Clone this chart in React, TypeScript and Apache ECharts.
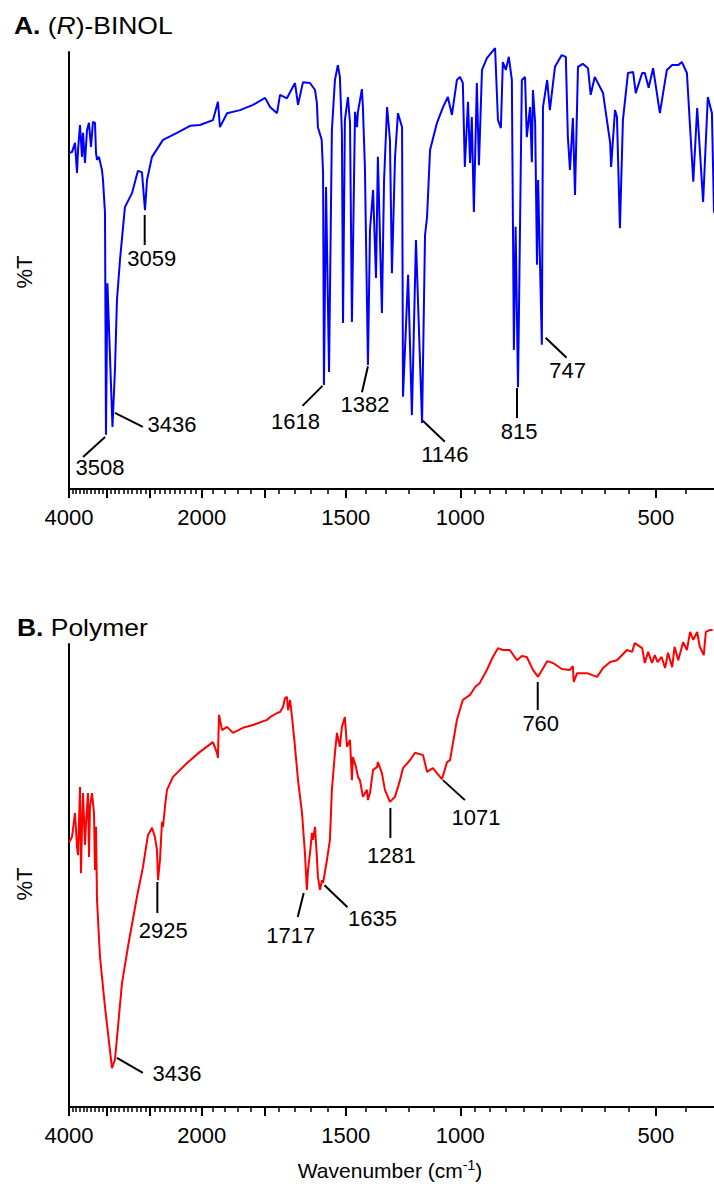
import React, { useEffect, useRef } from 'react';
import * as echarts from 'echarts';

// (R)-BINOL spectrum: [wavenumber cm-1, %T]
const binolSpectrum: [number, number][] = [
  [4000,76.9],[3958,77.1],[3916,79.2],[3888,72.3],[3874,77.6],[3847,83.3],[3820,76.0],[3806,81.5],[3780,74.6],[3753,82.1],[3727,83.8],[3700,78.3],[3674,84.0],[3648,83.8],[3635,76.9],[3622,75.3],[3597,76.0],[3559,73.0],[3546,70.7],[3521,63.2],[3509,12.4],[3491,47.1],[3429,14.2],[3399,27.2],[3375,43.2],[3339,52.4],[3281,64.5],[3200,67.7],[3133,72.8],[3089,72.5],[3056,63.8],[3034,70.7],[2981,76.0],[2867,79.9],[2728,81.5],[2605,83.1],[2515,83.3],[2402,84.4],[2360,88.6],[2343,82.8],[2285,86.0],[2182,86.7],[2084,87.9],[1997,89.5],[1962,87.4],[1914,86.0],[1894,90.2],[1848,89.4],[1828,90.8],[1796,92.9],[1777,87.9],[1746,93.1],[1703,92.9],[1673,91.3],[1662,88.3],[1656,82.8],[1634,79.9],[1626,72.3],[1621,23.8],[1609,69.1],[1592,26.8],[1576,82.1],[1559,93.6],[1543,97.0],[1532,94.3],[1521,81.5],[1515,38.0],[1505,84.4],[1489,89.7],[1478,83.8],[1468,38.2],[1452,86.3],[1442,82.8],[1437,86.3],[1417,91.5],[1412,87.4],[1402,73.7],[1387,28.4],[1377,59.3],[1362,68.4],[1348,48.3],[1339,76.0],[1320,40.3],[1310,70.7],[1296,87.4],[1283,79.9],[1274,49.4],[1260,76.0],[1247,86.0],[1229,82.8],[1225,21.1],[1203,49.0],[1187,16.9],[1170,57.0],[1145,15.1],[1133,58.1],[1125,62.2],[1113,77.6],[1086,83.8],[1063,87.4],[1045,89.7],[1030,85.6],[1012,93.6],[1001,94.3],[991,92.9],[984,73.7],[973,88.6],[966,74.6],[960,85.1],[953,63.4],[943,92.9],[936,74.1],[926,95.9],[910,98.6],[884,100.9],[875,84.4],[866,82.6],[860,97.7],[851,95.9],[842,98.9],[833,93.6],[827,31.8],[822,60.0],[815,23.3],[804,93.6],[795,94.3],[790,80.5],[781,87.4],[776,74.8],[773,91.3],[767,83.8],[762,51.3],[759,70.7],[749,33.0],[746,87.4],[735,93.6],[728,86.7],[715,96.6],[698,99.3],[688,98.9],[683,80.5],[678,73.0],[671,84.9],[666,67.3],[659,96.6],[648,97.3],[636,96.3],[630,90.2],[621,94.3],[603,90.6],[588,79.2],[586,73.7],[578,86.7],[574,85.1],[568,59.7],[562,84.4],[552,95.2],[542,95.4],[537,90.6],[525,95.2],[520,95.2],[513,91.8],[505,96.3],[493,86.0],[481,95.9],[472,97.0],[462,97.0],[456,97.7],[448,95.2],[443,82.8],[438,70.3],[432,87.2],[423,65.7],[416,89.7],[410,86.0],[407,63.2]
];

// Polymer spectrum: [wavenumber cm-1, %T]
const polymerSpectrum: [number, number][] = [
  [4000,57.2],[3958,58.3],[3916,63.5],[3888,56.2],[3874,54.4],[3847,69.1],[3834,50.5],[3820,60.5],[3806,67.8],[3780,56.6],[3766,61.3],[3740,67.8],[3726,54.0],[3714,64.8],[3687,67.8],[3661,63.5],[3648,51.2],[3635,60.5],[3622,44.7],[3584,32.4],[3521,21.6],[3435,8.4],[3399,10.2],[3315,26.8],[3246,34.6],[3144,45.4],[3078,51.8],[3024,58.7],[2981,60.3],[2950,58.3],[2929,55.5],[2918,49.0],[2898,53.3],[2877,61.6],[2867,60.5],[2847,64.8],[2827,68.5],[2767,71.3],[2633,74.3],[2515,76.7],[2402,78.8],[2368,76.5],[2360,75.4],[2351,84.7],[2326,81.4],[2285,82.1],[2237,80.8],[2160,81.9],[2084,82.5],[1984,83.6],[1962,84.2],[1914,85.1],[1894,85.3],[1874,86.4],[1861,88.3],[1848,88.6],[1841,85.7],[1828,87.9],[1815,84.2],[1796,77.8],[1777,70.6],[1752,63.5],[1734,54.9],[1722,46.9],[1715,51.2],[1703,54.9],[1691,59.2],[1685,57.7],[1673,60.5],[1662,54.0],[1656,49.7],[1644,46.9],[1632,49.0],[1626,48.4],[1604,53.3],[1587,57.7],[1576,68.5],[1559,76.5],[1548,80.8],[1532,77.8],[1521,82.1],[1505,84.2],[1494,77.8],[1478,79.3],[1468,70.6],[1463,75.6],[1447,73.4],[1437,71.3],[1427,70.6],[1412,67.0],[1392,68.5],[1387,66.3],[1377,67.8],[1362,72.8],[1343,73.4],[1339,74.5],[1320,72.1],[1306,68.5],[1283,65.9],[1260,67.0],[1238,70.6],[1225,73.2],[1195,74.9],[1174,76.5],[1141,76.0],[1125,72.4],[1113,72.8],[1102,73.2],[1086,72.1],[1067,70.8],[1048,74.5],[1037,74.9],[1012,83.6],[991,87.9],[966,89.0],[949,90.7],[933,91.6],[910,94.4],[891,97.2],[875,99.1],[860,98.7],[839,98.7],[818,96.5],[804,97.4],[790,97.2],[773,94.4],[759,92.9],[735,96.3],[720,95.9],[698,94.6],[678,94.4],[671,95.2],[669,91.8],[661,93.7],[638,93.7],[616,92.9],[603,94.8],[588,96.1],[574,96.5],[554,98.7],[544,98.3],[539,100.2],[525,99.1],[520,95.9],[514,98.3],[507,95.9],[502,97.6],[497,96.1],[490,97.2],[484,94.8],[479,98.1],[472,95.0],[468,99.4],[462,96.5],[454,100.4],[448,98.7],[443,102.6],[438,100.9],[432,102.6],[428,99.4],[422,97.6],[419,102.6],[413,103.0],[409,103.0]
];

// Peak annotations: label, wavenumber, %T at the tip of the leader line
const binolPeakLabels = ['3059', '3508', '3436', '1618', '1382', '1146', '815', '747'];
const binolPeakNu = [3059, 3508, 3436, 1618, 1382, 1146, 815, 747];
const binolPeakT = [62.7, 11.9, 17.4, 23.6, 28.1, 15.6, 23.1, 34.6];

const polymerPeakLabels = ['2925', '3436', '1717', '1635', '1281', '1071', '760'];
const polymerPeakNu = [2925, 3436, 1717, 1635, 1281, 1071, 760];
const polymerPeakT = [48.6, 10.6, 46.2, 47.9, 64.6, 70.6, 91.8];

// Axis ticks
const majorTicks = [4000, 3500, 3000, 2500, 2000, 1500, 1000, 500];
const tickLabelAt = [4000, 2500, 1500, 1000, 500];
const tickLabelText = ['4000', '2000', '1500', '1000', '500'];
const minorTicks = [
  3950, 3900, 3850, 3800, 3750, 3700, 3650, 3600, 3550, 3450, 3400, 3350, 3300, 3250, 3200, 3150, 3100, 3050,
  2950, 2900, 2850, 2800, 2750, 2700, 2650, 2600, 2550, 2400, 2300, 2200, 2100, 1900, 1800, 1700, 1600,
  1400, 1300, 1200, 1100, 950, 900, 850, 800, 750, 700, 650, 600, 550, 450,
];
const axisMinNu = 407;
const axisMaxNu = 4000;

// Leader line / label layout relative to the tip (pixels): [x1, y1, x2, y2, textX, textY]
const binolLabelLayout = [
  [0, 0, 0, 30, 7, 43],
  [-1, 0, -23, 20, -6, 31],
  [3, 0, 31, 14, 60, 12],
  [-2, 0, -22, 20, -29, 36],
  [-1, 0, -7, 26, -4, 38],
  [1, 0, 23, 21, 23, 34],
  [-1, 0, -1, 30, 1, 43],
  [3, 0, 24, 20, 25, 33],
];
const polymerLabelLayout = [
  [0, 0, 0, 31, 6, 49],
  [5, 0, 31, 15, 65, 16],
  [-4, 0, -10, 24, -17, 42],
  [3, 0, 26, 22, 51, 33],
  [0, 0, 0, 30, 1, 48],
  [2, 0, 24, 20, 35, 37],
  [0, 0, 0, 28, 3, 42],
];

const FONT = '"Liberation Sans", Arial, Helvetica, sans-serif';
const lg = (v: number) => Math.log10(v);

function App() {
  const ref = useRef<HTMLDivElement>(null);

  useEffect(() => {
    document.body.style.margin = '0';
    if (!ref.current) return;
    const chart = echarts.init(ref.current, null, { renderer: 'svg' });

    const labelLogs = tickLabelAt.map(lg);
    const labelFormatter = (val: number) => {
      const i = labelLogs.findIndex((v) => Math.abs(v - val) < 1e-6);
      return i >= 0 ? tickLabelText[i] : '';
    };

    const mkX = (gridIndex: number, minor: boolean) => ({
      type: 'value',
      gridIndex,
      position: 'bottom',
      min: lg(axisMinNu),
      max: lg(axisMaxNu),
      inverse: true,
      axisLine: { show: !minor, onZero: false, lineStyle: { color: '#000', width: 2 } },
      axisTick: {
        show: true,
        inside: false,
        length: minor ? 5 : 9,
        lineStyle: { color: '#000', width: minor ? 1.5 : 2 },
        customValues: (minor ? minorTicks : majorTicks).map(lg),
      },
      axisLabel: minor
        ? { show: false }
        : {
            show: true,
            customValues: labelLogs,
            formatter: labelFormatter,
            fontSize: 22,
            fontFamily: FONT,
            color: '#000',
            margin: 17,
          },
      splitLine: { show: false },
    });

    const mkY = (gridIndex: number) => ({
      type: 'value',
      gridIndex,
      min: 0,
      max: 100,
      axisLine: { show: true, lineStyle: { color: '#000', width: 2 } },
      axisTick: { show: false },
      axisLabel: { show: false },
      splitLine: { show: false },
    });

    const peakSeries = (
      labels: string[],
      nus: number[],
      ts: number[],
      layout: number[][],
      xAxisIndex: number,
      yAxisIndex: number
    ) => ({
      type: 'custom',
      xAxisIndex,
      yAxisIndex,
      clip: false,
      silent: true,
      data: nus.map((n, i) => [lg(n), ts[i]]),
      encode: { x: 0, y: 1 },
      renderItem: (params: any, api: any) => {
        const p = api.coord([api.value(0), api.value(1)]);
        const L = layout[params.dataIndex];
        return {
          type: 'group',
          children: [
            {
              type: 'line',
              shape: { x1: p[0] + L[0], y1: p[1] + L[1], x2: p[0] + L[2], y2: p[1] + L[3] },
              style: { stroke: '#000', lineWidth: 2 },
            },
            {
              type: 'text',
              x: p[0] + L[4],
              y: p[1] + L[5],
              style: {
                text: labels[params.dataIndex],
                font: `22px ${FONT}`,
                fill: '#000',
                align: 'center',
                verticalAlign: 'middle',
                textAlign: 'center',
                textVerticalAlign: 'middle',
              },
            },
          ],
        };
      },
    });

    const option: any = {
      animation: false,
      backgroundColor: '#fff',
      grid: [
        { left: 69, right: 0, top: 52, height: 437 },
        { left: 69, right: 0, top: 644, height: 463 },
      ],
      xAxis: [mkX(0, false), mkX(0, true), mkX(1, false), mkX(1, true)],
      yAxis: [mkY(0), mkY(1)],
      series: [
        {
          type: 'line',
          xAxisIndex: 0,
          yAxisIndex: 0,
          data: binolSpectrum.map(([n, t]) => [lg(n), t]),
          showSymbol: false,
          clip: false,
          lineStyle: { color: '#0000ff', width: 2 },
          itemStyle: { color: '#0000ff' },
        },
        {
          type: 'line',
          xAxisIndex: 2,
          yAxisIndex: 1,
          data: polymerSpectrum.map(([n, t]) => [lg(n), t]),
          showSymbol: false,
          clip: false,
          lineStyle: { color: '#ff0000', width: 2 },
          itemStyle: { color: '#ff0000' },
        },
        peakSeries(binolPeakLabels, binolPeakNu, binolPeakT, binolLabelLayout, 0, 0),
        peakSeries(polymerPeakLabels, polymerPeakNu, polymerPeakT, polymerLabelLayout, 2, 1),
      ],
      graphic: [
        {
          type: 'text',
          x: 14,
          y: 26,
          scaleX: 1.15,
          style: {
            text: '{b|A.} ({i|R})-BINOL',
            font: `23px ${FONT}`,
            fill: '#000',
            verticalAlign: 'middle',
            textVerticalAlign: 'middle',
            rich: {
              b: { fontWeight: 'bold', fontSize: 23, fontFamily: FONT, fill: '#000' },
              i: { fontStyle: 'italic', fontSize: 23, fontFamily: FONT, fill: '#000' },
            },
          },
        },
        {
          type: 'text',
          x: 17,
          y: 628,
          scaleX: 1.15,
          style: {
            text: '{b|B.} Polymer',
            font: `23px ${FONT}`,
            fill: '#000',
            verticalAlign: 'middle',
            textVerticalAlign: 'middle',
            rich: {
              b: { fontWeight: 'bold', fontSize: 23, fontFamily: FONT, fill: '#000' },
            },
          },
        },
        {
          type: 'text',
          x: 24,
          y: 272,
          rotation: Math.PI / 2,
          style: {
            text: '%T',
            font: `22px ${FONT}`,
            fill: '#000',
            align: 'center',
            verticalAlign: 'middle',
            textAlign: 'center',
            textVerticalAlign: 'middle',
          },
        },
        {
          type: 'text',
          x: 24,
          y: 884,
          rotation: Math.PI / 2,
          style: {
            text: '%T',
            font: `22px ${FONT}`,
            fill: '#000',
            align: 'center',
            verticalAlign: 'middle',
            textAlign: 'center',
            textVerticalAlign: 'middle',
          },
        },
        {
          type: 'text',
          x: 390,
          y: 1170,
          style: {
            text: 'Wavenumber (cm{sup|-1})',
            font: `21px ${FONT}`,
            fill: '#000',
            align: 'center',
            verticalAlign: 'middle',
            textAlign: 'center',
            textVerticalAlign: 'middle',
            rich: {
              sup: { fontSize: 14, fontFamily: FONT, verticalAlign: 'top', padding: [0, 0, 10, 0], fill: '#000' },
            },
          },
        },
      ],
    };

    chart.setOption(option);
    return () => chart.dispose();
  }, []);

  return <div ref={ref} style={{ width: 714, height: 1191 }} />;
}

export default App;
